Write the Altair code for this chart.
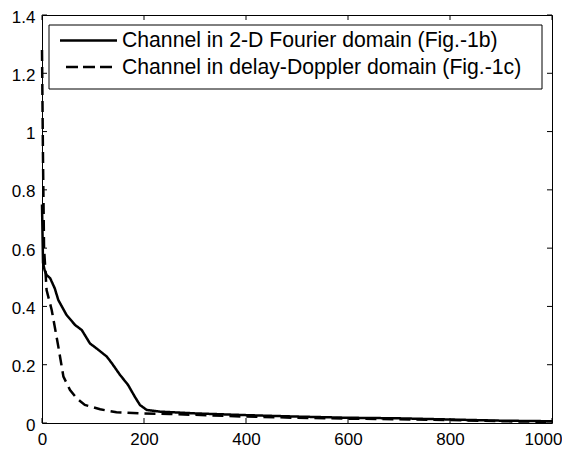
import altair as alt
import pandas as pd

# ---- data ----
fourier_x = [0, 2, 5, 9, 16, 25, 32, 48, 65, 78, 94, 107, 127, 137, 153, 169, 182, 192, 205, 231,
             300, 350, 400, 500, 600, 700, 800, 900, 1000]
fourier_y = [0.75, 0.55, 0.525, 0.508, 0.497, 0.462, 0.422, 0.371, 0.336, 0.319, 0.273, 0.256, 0.228,
             0.205, 0.165, 0.130, 0.090, 0.062, 0.045, 0.039,
             0.033, 0.030, 0.027, 0.022, 0.018, 0.016, 0.012, 0.008, 0.006]

dd_x = [0, 2, 4, 9, 19, 25, 32, 42, 55, 68, 84, 114, 146, 192, 250, 300, 400, 500, 600, 700, 800, 900, 1000]
dd_y = [1.28, 0.90, 0.60, 0.456, 0.388, 0.33, 0.262, 0.159, 0.113, 0.085, 0.062, 0.047, 0.037, 0.033,
        0.031, 0.028, 0.022, 0.018, 0.015, 0.013, 0.010, 0.006, 0.004]

series_names = ["Channel in 2-D Fourier domain (Fig.-1b)",
                "Channel in delay-Doppler domain (Fig.-1c)"]

x_ticks = [0, 200, 400, 600, 800, 1000]
y_ticks = [0, 0.2, 0.4, 0.6, 0.8, 1.0, 1.2, 1.4]

# ---- build tables ----
df = pd.concat([
    pd.DataFrame({"x": fourier_x, "y": fourier_y, "s": series_names[0]}),
    pd.DataFrame({"x": dd_x, "y": dd_y, "s": series_names[1]}),
])
xt = pd.DataFrame({"t": x_ticks})
yt = pd.DataFrame({"t": y_ticks})
one = pd.DataFrame({"k": [0]})

W, H = 510, 408
FONT = "Liberation Sans"
LEG_FS = 21.2
xscale = alt.Scale(domain=[0, 1000], nice=False, zero=False)
yscale = alt.Scale(domain=[0, 1.4], nice=False, zero=False)

lines = alt.Chart(df).mark_line(color="black", strokeWidth=2.5).encode(
    x=alt.X("x:Q", scale=xscale,
            axis=alt.Axis(values=x_ticks, title=None, grid=False, domain=False, tickSize=0,
                          labelPadding=8, labelFontSize=17, labelFont=FONT, labelColor="black",
                          format="d", labelFlush=False,
                          labelOffset={"condition": {"test": "datum.value === 1000", "value": -9},
                                       "value": 0})),
    y=alt.Y("y:Q", scale=yscale,
            axis=alt.Axis(values=y_ticks, title=None, grid=False, domain=False, tickSize=0,
                          labelPadding=7, labelFontSize=17, labelFont=FONT, labelColor="black",
                          format="~g", labelFlush=False, labelOffset=2)),
    strokeDash=alt.StrokeDash("s:N", scale=alt.Scale(domain=series_names, range=[[1, 0], [11, 6]]),
                              legend=None),
    order=alt.Order("x:Q"),
)

tick_style = dict(color="black", strokeWidth=1)
bottom_ticks = alt.Chart(xt).mark_rule(**tick_style).encode(
    x=alt.X("t:Q", scale=xscale), y=alt.value(H), y2=alt.value(H - 5))
top_ticks = alt.Chart(xt).mark_rule(**tick_style).encode(
    x=alt.X("t:Q", scale=xscale), y=alt.value(0), y2=alt.value(5))
left_ticks = alt.Chart(yt).mark_rule(**tick_style).encode(
    y=alt.Y("t:Q", scale=yscale), x=alt.value(0), x2=alt.value(5))
right_ticks = alt.Chart(yt).mark_rule(**tick_style).encode(
    y=alt.Y("t:Q", scale=yscale), x=alt.value(W), x2=alt.value(W - 5))

# ---- legend ----
leg_box = alt.Chart(one).mark_rect(fill="white", stroke="black", strokeWidth=1).encode(
    x=alt.value(7), x2=alt.value(500), y=alt.value(10), y2=alt.value(74))
leg_sym1 = alt.Chart(one).mark_rule(color="black", strokeWidth=2.5).encode(
    x=alt.value(18), x2=alt.value(75), y=alt.value(25.5))
leg_sym2 = alt.Chart(one).mark_rule(color="black", strokeWidth=2.5, strokeDash=[12, 5]).encode(
    x=alt.value(24), x2=alt.value(75), y=alt.value(52))
leg_txt1 = alt.Chart(one).mark_text(text=series_names[0], align="left", baseline="middle",
                                    fontSize=LEG_FS, font=FONT, color="black").encode(
    x=alt.value(80), y=alt.value(25.5))
leg_txt2 = alt.Chart(one).mark_text(text=series_names[1], align="left", baseline="middle",
                                    fontSize=LEG_FS, font=FONT, color="black").encode(
    x=alt.value(80), y=alt.value(52.5))

chart = alt.layer(
    lines, bottom_ticks, top_ticks, left_ticks, right_ticks,
    leg_box, leg_sym1, leg_sym2, leg_txt1, leg_txt2
).properties(
    width=W, height=H,
    autosize=alt.AutoSizeParams(type="none"),
    padding={"left": 34, "top": 7, "right": 10, "bottom": 28},
    background="white",
).configure_view(stroke="black", strokeWidth=1)

chart.save("out.html", embed_options={"renderer": "svg", "actions": False})
